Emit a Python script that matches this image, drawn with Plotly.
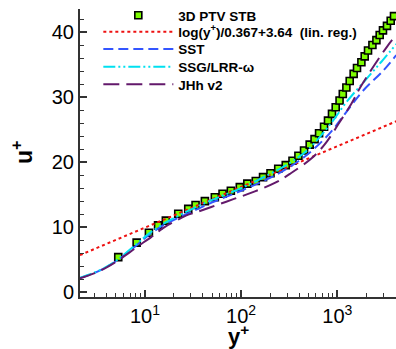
import plotly.graph_objects as go

# ---- data ----
ptv_y = [5.28, 8.2, 11.0, 13.7, 16.5, 22.2, 28.2, 33.6, 42, 53.3, 64.1, 78.2, 96.9, 116, 142, 169, 202,
         243, 291, 342, 394, 451, 516, 580, 646, 728, 800, 880, 962, 1055, 1140, 1242, 1345, 1479,
         1602, 1779, 1926, 2085, 2317, 2549, 2757, 2983, 3283, 3588, 3883]
ptv_u = [5.38, 7.6, 9.14, 10.26, 11.0, 12.06, 12.8, 13.4, 14.0, 14.6, 15.14, 15.6, 16.15, 16.7, 17.1,
         17.7, 18.3, 18.98, 19.55, 20.23, 21.0, 21.8, 22.7, 23.55, 24.46, 25.45, 26.4, 27.45, 28.46,
         29.5, 30.5, 31.5, 32.5, 33.6, 34.5, 35.4, 36.3, 37.2, 38.06, 38.8, 39.6, 40.3, 41.0, 41.8, 42.5]

log_y = [2.11, 10, 100, 1000, 4100]
log_u = [5.68, 9.91, 16.19, 22.46, 26.30]

sst_y = [2.11, 3, 4, 5.3, 8.2, 11, 16, 22, 30, 50, 100, 200, 300, 500, 850, 1250, 1850, 3000, 4100]
sst_u = [2.15, 2.95, 3.85, 5.0, 7.2, 8.8, 10.4, 11.4, 12.3, 13.8, 15.6, 17.6, 19.0, 21.3, 24.6, 27.8, 31.0, 34.1, 36.5]

ssg_y = [2.11, 3, 4, 5.3, 8.2, 11, 16, 22, 30, 50, 100, 200, 300, 500, 850, 1250, 2085, 3000, 4100]
ssg_u = [2.2, 3.0, 3.9, 5.1, 7.4, 9.0, 10.6, 11.7, 12.7, 14.2, 16.0, 18.2, 19.6, 22.0, 25.9, 29.3, 33.1, 35.8, 38.2]

jhh_y = [2.11, 3, 4, 5.3, 8.2, 11.7, 16, 20, 27, 34.5, 49, 83, 139, 224, 321, 560, 771, 1059, 1400, 1778, 3250, 4100]
jhh_u = [2.1, 2.9, 3.8, 4.9, 6.9, 8.5, 10.0, 10.8, 11.8, 12.3, 13.1, 14.3, 15.5, 16.8, 18.2, 20.8, 23.1, 26.2, 29.0, 31.8, 37.7, 39.6]

names = ["3D PTV STB", "log(y<sup>+</sup>)/0.367+3.64 &nbsp;(lin. reg.)", "SST", "SSG/LRR-\u03c9", "JHh v2"]

x_major = [10, 100, 1000]
x_major_text = ["10<sup>1</sup>", "10<sup>2</sup>", "10<sup>3</sup>"]
x_minor = [3, 4, 5, 6, 7, 8, 9, 20, 30, 40, 50, 60, 70, 80, 90, 200, 300, 400, 500, 600, 700, 800, 900, 2000, 3000, 4000]
y_major = [0, 10, 20, 30, 40]

legend_ids = ["legend", "legend2", "legend3", "legend4", "legend5"]
legend_rows = [0.976, 0.917, 0.857, 0.796, 0.735]

fig = go.Figure()
fig.add_trace(go.Scatter(x=ptv_y, y=ptv_u, mode="markers", name=names[0], legend=legend_ids[0],
                         marker=dict(symbol="square", size=7, color="#7cfc00",
                                     line=dict(color="black", width=1.6))))
fig.add_trace(go.Scatter(x=log_y, y=log_u, mode="lines", name=names[1], legend=legend_ids[1],
                         line=dict(color="#ee1111", width=2, dash="3px,3px")))
fig.add_trace(go.Scatter(x=sst_y, y=sst_u, mode="lines", name=names[2], line_shape="spline",
                         legend=legend_ids[2],
                         line=dict(color="#3355ff", width=2, dash="10px,5px")))
fig.add_trace(go.Scatter(x=ssg_y, y=ssg_u, mode="lines", name=names[3], line_shape="spline",
                         legend=legend_ids[3],
                         line=dict(color="#00e0f0", width=2, dash="12px,3px,2px,3px,2px,3px")))
fig.add_trace(go.Scatter(x=jhh_y, y=jhh_u, mode="lines", name=names[4], line_shape="spline",
                         legend=legend_ids[4],
                         line=dict(color="#63196b", width=2, dash="16px,7px")))

leg_font = dict(size=13.5, family="Arial, Liberation Sans, sans-serif", weight="bold", color="black")
legends = {}
for lid, ly in zip(legend_ids, legend_rows):
    legends[lid] = dict(x=0.058, y=ly, xanchor="left", yanchor="middle", bgcolor="rgba(0,0,0,0)",
                        font=leg_font, itemwidth=70, tracegroupgap=0)

axis_col = "#333333"
fig.update_layout(
    width=396, height=349,
    margin=dict(l=80, r=0, t=8, b=52),
    plot_bgcolor="white", paper_bgcolor="white",
    font=dict(family="Arial, Liberation Sans, sans-serif", color="black"),
    showlegend=True,
    **legends,
    xaxis=dict(type="log", range=[0.325, 3.61], showgrid=False, zeroline=False,
               showline=True, linecolor=axis_col, linewidth=2,
               ticks="inside", ticklen=7, tickwidth=1.5, tickcolor=axis_col,
               tickmode="array", tickvals=x_major, ticktext=x_major_text,
               tickfont=dict(size=20),
               minor=dict(ticks="inside", ticklen=4, tickwidth=1.2, tickcolor=axis_col,
                          tickmode="array", tickvals=x_minor)),
    yaxis=dict(range=[-0.77, 43.6], showgrid=False, zeroline=False,
               showline=True, linecolor=axis_col, linewidth=2,
               ticks="inside", ticklen=7, tickwidth=1.5, tickcolor=axis_col,
               tickmode="array", tickvals=y_major, tickfont=dict(size=20),
               minor=dict(ticks="inside", ticklen=4, tickwidth=1.2, tickcolor=axis_col, dtick=2)),
)
fig.add_annotation(text="<b>y<sup>+</sup></b>", xref="paper", yref="paper", x=0.5, y=0,
                   yshift=-38, yanchor="middle", showarrow=False, font=dict(size=22))
fig.add_annotation(text="<b>u<sup>+</sup></b>", xref="paper", yref="paper", x=0, y=0.5,
                   xshift=-58, xanchor="center", textangle=-90, showarrow=False, font=dict(size=23))

fig.write_html("out.html", config={"displayModeBar": False},
               post_script="document.body.style.margin='0';document.body.style.padding='0';")
